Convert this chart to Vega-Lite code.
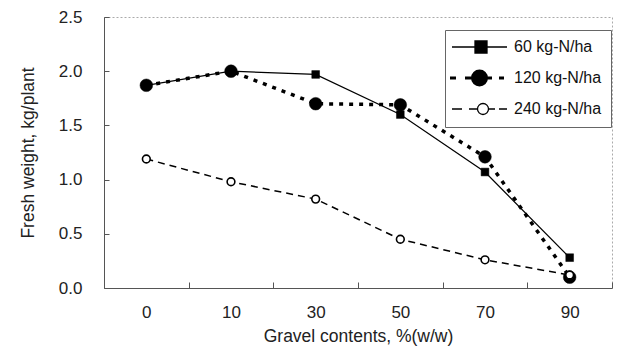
{
  "$schema": "https://vega.github.io/schema/vega-lite/v6.json",
  "autosize": "none",
  "padding": {"left": 104, "top": 17, "right": 7, "bottom": 66},
  "width": 508,
  "height": 271,
  "background": "white",
  "config": {
    "font": "Liberation Sans",
    "view": {"stroke": "#aaaaaa", "strokeDash": [2, 2], "strokeWidth": 1},
    "axis": {"grid": false, "domainColor": "#555555", "tickColor": "#555555", "labelColor": "#222222", "titleColor": "#222222", "labelFont": "Liberation Sans", "titleFont": "Liberation Sans", "titleFontWeight": "normal"}
  },
  "resolve": {"scale": {"shape": "independent"}, "legend": {"shape": "independent"}},
  "data": {
    "values": [
      {"gravel": "0", "series": "60 kg-N/ha", "weight": 1.87},
      {"gravel": "10", "series": "60 kg-N/ha", "weight": 2.0},
      {"gravel": "30", "series": "60 kg-N/ha", "weight": 1.97},
      {"gravel": "50", "series": "60 kg-N/ha", "weight": 1.6},
      {"gravel": "70", "series": "60 kg-N/ha", "weight": 1.07},
      {"gravel": "90", "series": "60 kg-N/ha", "weight": 0.28},
      {"gravel": "0", "series": "120 kg-N/ha", "weight": 1.87},
      {"gravel": "10", "series": "120 kg-N/ha", "weight": 2.0},
      {"gravel": "30", "series": "120 kg-N/ha", "weight": 1.7},
      {"gravel": "50", "series": "120 kg-N/ha", "weight": 1.69},
      {"gravel": "70", "series": "120 kg-N/ha", "weight": 1.21},
      {"gravel": "90", "series": "120 kg-N/ha", "weight": 0.1},
      {"gravel": "0", "series": "240 kg-N/ha", "weight": 1.19},
      {"gravel": "10", "series": "240 kg-N/ha", "weight": 0.98},
      {"gravel": "30", "series": "240 kg-N/ha", "weight": 0.82},
      {"gravel": "50", "series": "240 kg-N/ha", "weight": 0.45},
      {"gravel": "70", "series": "240 kg-N/ha", "weight": 0.26},
      {"gravel": "90", "series": "240 kg-N/ha", "weight": 0.12}
    ]
  },
  "encoding": {
    "x": {
      "field": "gravel", "type": "ordinal", "sort": ["0", "10", "30", "50", "70", "90"],
      "scale": {"type": "band", "paddingInner": 0, "paddingOuter": 0},
      "axis": {"title": "Gravel contents, %(w/w)", "labelAngle": 0, "tickBand": "extent", "tickSize": -6, "labelPadding": 22, "labelFontSize": 17, "titleFontSize": 17.5, "titlePadding": 7}
    },
    "y": {
      "field": "weight", "type": "quantitative",
      "scale": {"domain": [0, 2.5]},
      "axis": {"title": "Fresh weight, kg/plant", "values": [0, 0.5, 1, 1.5, 2, 2.5], "format": ".1f", "tickSize": -5, "labelPadding": 27, "labelFontSize": 17, "titleFontSize": 17.5, "titlePadding": 21}
    }
  },
  "layer": [
    {
      "transform": [{"filter": "datum.series == '60 kg-N/ha'"}],
      "mark": {"type": "line", "color": "black", "strokeWidth": 1.2}
    },
    {
      "transform": [{"filter": "datum.series == '120 kg-N/ha'"}],
      "mark": {"type": "line", "color": "black", "strokeWidth": 3.5, "strokeDash": [4, 6]}
    },
    {
      "transform": [{"filter": "datum.series == '240 kg-N/ha'"}],
      "mark": {"type": "line", "color": "black", "strokeWidth": 1.5, "strokeDash": [7, 5]}
    },
    {
      "mark": {"type": "point", "filled": true, "stroke": "black", "opacity": 1},
      "encoding": {
        "shape": {
          "field": "series", "type": "nominal",
          "scale": {"domain": ["60 kg-N/ha", "120 kg-N/ha", "240 kg-N/ha"], "range": ["square", "circle", "circle"]},
          "legend": null
        },
        "fill": {"condition": {"test": "datum.series == '240 kg-N/ha'", "value": "white"}, "value": "black"},
        "size": {"condition": {"test": "datum.series == '120 kg-N/ha'", "value": 160}, "value": 60},
        "strokeWidth": {"condition": {"test": "datum.series == '240 kg-N/ha'", "value": 1.6}, "value": 0.5}
      }
    },
    {
      "mark": {"type": "point", "filled": true, "opacity": 0},
      "encoding": {
        "shape": {
          "field": "series", "type": "nominal",
          "scale": {
            "domain": ["60 kg-N/ha", "120 kg-N/ha", "240 kg-N/ha"],
            "range": [
              "M-1,0H4.5M1.3,-0.6H2.5V0.6H1.3Z",
              "M-1.2,0H-0.6M0.3,0H1.05M1.05,0A0.7,0.7 0 1,1 2.45,0A0.7,0.7 0 1,1 1.05,0ZM2.5,0H3M3.7,0H4.2",
              "M-1,0H0M0.7,0H1.55M1.55,0A0.55,0.55 0 1,1 2.65,0A0.55,0.55 0 1,1 1.55,0ZM2.65,0H3.3M3.7,0H4.5"
            ]
          },
          "legend": {
            "title": null, "orient": "none", "legendX": 341, "legendY": 13,
            "strokeColor": "#666666", "fillColor": "white", "padding": 9,
            "labelFont": "Liberation Sans", "labelFontSize": 16, "labelColor": "#111111",
            "rowPadding": 9, "labelOffset": 44, "symbolSize": 400,
            "encoding": {
              "symbols": {
                "strokeWidth": {"value": {"expr": "datum.value == '120 kg-N/ha' ? 3 : 1.3"}},
                "size": {"value": 400},
                "stroke": {"value": "black"},
                "fill": {"value": {"expr": "datum.value == '240 kg-N/ha' ? 'white' : 'black'"}},
                "opacity": {"value": 1},
                "fillOpacity": {"value": 1},
                "strokeOpacity": {"value": 1}
              }
            }
          }
        }
      }
    }
  ]
}
